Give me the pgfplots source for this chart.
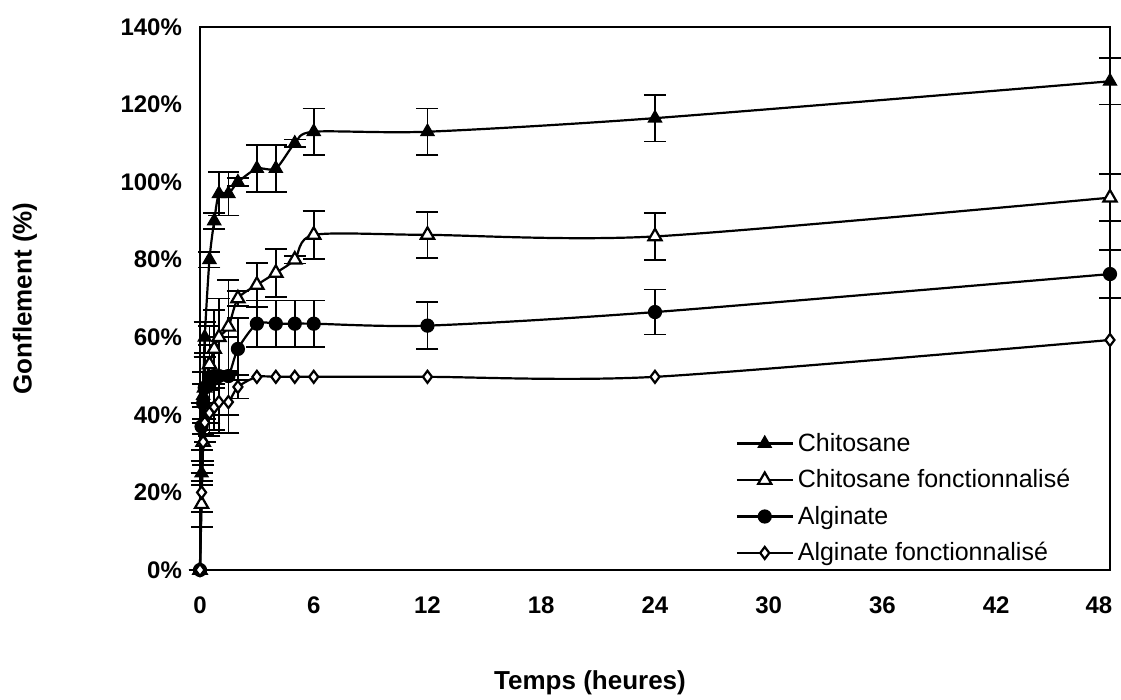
\documentclass[border=0pt]{standalone}
\usepackage{pgfplots}
\pgfplotsset{compat=1.18}
\usepackage{pgfplotstable}
\usepackage{fontspec}
\setmainfont{Liberation Sans}

\pgfplotstableread{
x y e
0 0 0
0.083 25 3
0.167 45 3
0.25 60 4
0.5 80 2
0.75 90 2
1 97 5.6
1.5 97 5.6
2 100 1
3 103.5 6
4 103.5 6
5 110 1
6 113 6
12 113 6
24 116.5 6
48 126 6
}\chito
\pgfplotstableread{
x y e
0 0 0
0.083 17 6
0.167 33 6
0.25 47 8
0.5 53 10
0.75 57 10
1 60 10
1.5 62.7 12
2 70 2
3 73.5 5.7
4 76.6 6.2
5 80 1
6 86.4 6.2
12 86.4 6
24 86 6
48 96 6
}\chitof
\pgfplotstableread{
x y e
0 0 0
0.083 37 6
0.167 43 8
0.25 47 8
0.5 48 10
0.75 50 10
1 50 10
1.5 50 10
2 57 8
3 63.5 6
4 63.5 6
5 63.5 6
6 63.5 6
12 63 6
24 66.5 5.8
48 76.3 6.2
}\algi
\pgfplotstableread{
x y
0 0
0.083 20
0.167 33
0.25 38
0.5 40.5
0.75 42
1 43.3
1.5 43.3
2 47.2
3 49.8
4 49.8
5 49.8
6 49.8
12 49.8
24 49.8
48 59.3
}\algif
\pgfplotstableread{
x y e
0.083 20 5
0.167 33 5
0.25 38 5
0.5 40.5 6
0.75 42 6
1 43.3 8
1.5 43.3 8
2 47.2 3
}\algiferr

\begin{document}
\begin{tikzpicture}
\useasboundingbox (-100pt,-65pt) rectangle (460.5pt,285pt);
\begin{axis}[
  at={(0,0)}, anchor=south west,
  scale only axis,
  width=455pt, height=271.5pt,
  xmin=0, xmax=48, ymin=0, ymax=140,
  xtick={0,6,...,48},
  xticklabels={0,6,12,18,24,30,36,42,48\kern11pt},
  ytick={0,20,...,140},
  major tick length=0pt,
  axis line style={line width=1.1pt},
  clip=false,
  /pgf/number format/assume math mode=true,
  tick label style={font=\fontsize{12}{14}\selectfont\bfseries},
  yticklabel={\pgfmathprintnumber{\tick}\%},
  xticklabel style={yshift=-10pt},
  yticklabel style={xshift=-5.5pt},
  xlabel={Temps (heures)},
  ylabel={Gonflement (\%)},
  xlabel style={font=\fontsize{13}{15}\selectfont\bfseries, at={([yshift=-56.5pt]axis description cs:0.4286,0)}, anchor=center},
  ylabel style={font=\fontsize{13}{15}\selectfont\bfseries, at={([xshift=-87.5pt]axis description cs:0,0.5)}, anchor=center, rotate=0},
  legend style={at={(axis description cs:0.586,0.264)}, anchor=north west, draw=none, fill=none,
     font=\fontsize{12.5}{14}\selectfont, row sep=3.6pt, inner sep=1pt},
  legend cell align=left,
  legend image code/.code={\draw[line width=1.1pt,mark repeat=2,mark phase=2,sharp plot] plot coordinates {(0pt,0pt) (14pt,0pt) (28pt,0pt)};},
  error bars/error mark options={rotate=90, mark size=5.5pt, line width=0.9pt, black},
  error bars/error bar style={line width=0.9pt, black},
]
\addplot[black, line width=1.1pt, smooth, tension=0.45, mark=triangle*, mark size=3.8pt, mark options={fill=black, solid, line width=0.6pt},
  error bars/.cd, y dir=both, y explicit] table[x=x,y=y,y error=e]{\chito};
\addlegendentry{Chitosane}
\addplot[black, line width=1.1pt, smooth, tension=0.45, mark=triangle*, mark size=3.8pt, mark options={fill=white, solid},
  error bars/.cd, y dir=both, y explicit] table[x=x,y=y,y error=e]{\chitof};
\addlegendentry{Chitosane fonctionnalisé}
\addplot[black, line width=1.1pt, smooth, tension=0.45, mark=*, mark size=3pt, mark options={fill=black, solid},
  error bars/.cd, y dir=both, y explicit] table[x=x,y=y,y error=e]{\algi};
\addlegendentry{Alginate}
\addplot[black, line width=1.1pt, forget plot, draw=none, mark=none,
  error bars/.cd, y dir=both, y explicit, error bar style={draw=black, line width=0.9pt}] table[x=x,y=y,y error=e]{\algiferr};
\addplot[black, line width=1.1pt, smooth, tension=0.45, mark=diamond*, mark size=3pt, mark options={fill=white, solid}] table[x=x,y=y]{\algif};
\addlegendentry{Alginate fonctionnalisé}
\end{axis}
\end{tikzpicture}
\end{document}
